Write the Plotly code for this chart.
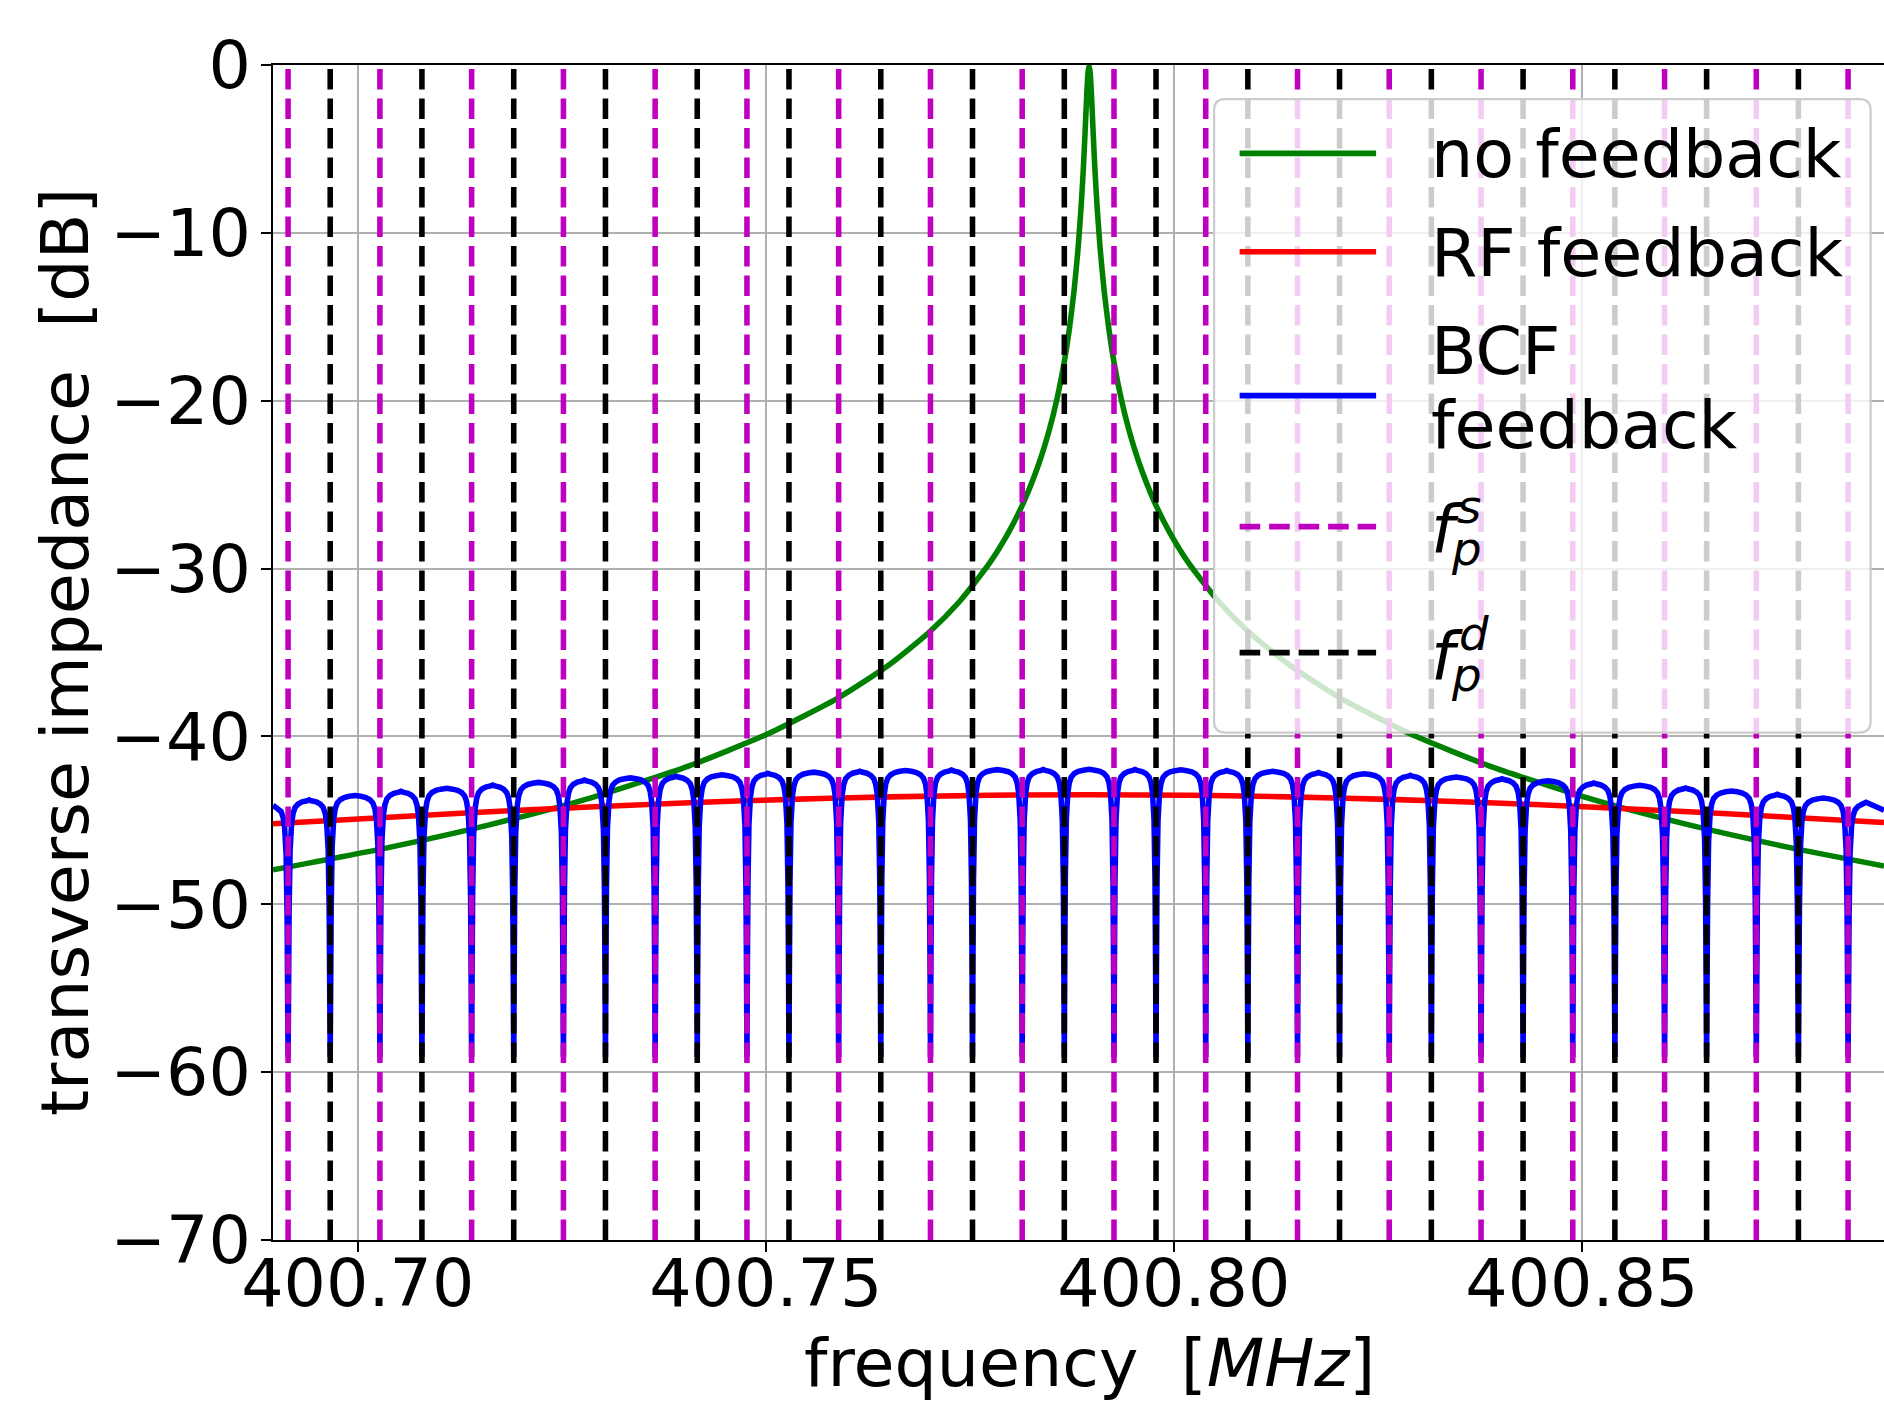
import plotly.graph_objects as go

# ---------------- data ----------------
# no feedback (green)
freq_nofb = [400.68961, 400.70386, 400.71611, 400.72836, 400.74061, 400.75041, 400.75899,
             400.76512, 400.77002, 400.77369, 400.77737, 400.77982, 400.78166, 400.78349,
             400.78472, 400.78570, 400.78656, 400.78717, 400.78778, 400.78827, 400.78864,
             400.78889, 400.78913, 400.78931, 400.78947, 400.78962, 400.78977, 400.78993,
             400.79011, 400.79035, 400.79060, 400.79097, 400.79146, 400.79207, 400.79268,
             400.79354, 400.79452, 400.79575, 400.79758, 400.79942, 400.80187, 400.80555,
             400.80922, 400.81412, 400.82025, 400.82883, 400.83863, 400.85088, 400.86313,
             400.87538, 400.88703]
db_nofb = [-47.95, -46.61, -45.27, -43.69, -41.75, -39.81, -37.67,
           -35.73, -33.79, -31.99, -29.71, -27.78, -25.98, -23.71,
           -21.78, -19.86, -17.74, -15.84, -13.43, -10.91, -8.44,
           -6.40, -3.97, -2.00, -0.55, 0.0, -0.55, -2.00,
           -3.97, -6.40, -8.44, -10.91, -13.43, -15.84, -17.74,
           -19.86, -21.78, -23.71, -25.98, -27.78, -29.71, -31.99,
           -33.79, -35.73, -37.67, -39.81, -41.75, -43.69, -45.27,
           -46.61, -47.72]

# RF feedback (red)
freq_rf = [400.68961, 400.70386, 400.71611, 400.72836, 400.74061, 400.75286, 400.76512,
           400.77737, 400.78962, 400.80187, 400.81412, 400.82638, 400.83863, 400.85088,
           400.86313, 400.87538, 400.88703]
db_rf = [-45.20, -44.81, -44.49, -44.20, -43.95, -43.75, -43.60,
         -43.50, -43.47, -43.50, -43.60, -43.75, -43.95, -44.20,
         -44.49, -44.81, -45.13]

# f_p^s (magenta) and f_p^d (black) lines [MHz]
fs_lines = [400.69146, 400.70271, 400.71395, 400.72520, 400.73644, 400.74769, 400.75893,
            400.77018, 400.78142, 400.79267, 400.80391, 400.81516, 400.82640, 400.83765,
            400.84889, 400.86014, 400.87138, 400.88263]
fd_lines = [400.69662, 400.70786, 400.71911, 400.73035, 400.74160, 400.75284, 400.76409,
            400.77533, 400.78658, 400.79782, 400.80907, 400.82031, 400.83156, 400.84280,
            400.85405, 400.86529, 400.87654]

# BCF feedback (blue): level between successive notches (left edge part, 34 gaps, right edge part)
bcf_plateau_db = [-44.02,
                  -43.78, -43.52, -43.27, -43.09, -42.90, -42.74, -42.60, -42.47, -42.37,
                  -42.29, -42.20, -42.13, -42.07, -42.03, -42.00, -41.98, -41.97, -41.96,
                  -41.97, -41.99, -42.03, -42.08, -42.15, -42.22, -42.32, -42.42, -42.52,
                  -42.64, -42.77, -42.91, -43.07, -43.25, -43.45, -43.67,
                  -43.92]
bcf_edge_db = [-44.10, -44.40]        # value at left / right border of the plot
bcf_notch_db = -59.1                  # bottom of each notch
notch_offset_hz = [49, 123, 245, 429, 613, 858, 1225, 1715, 2330]            # distance from notch centre
notch_drop_db = [-12.0, -6.6, -3.0, -1.4, -0.8, -0.45, -0.25, -0.12, -0.05]  # level below the plateau

x_range = [400.68961, 400.88703]
y_range = [-70, 0]
x_tickvals = [400.70, 400.75, 400.80, 400.85]
x_ticktext = ["400.70", "400.75", "400.80", "400.85"]
y_tickvals = [-70, -60, -50, -40, -30, -20, -10, 0]
y_ticktext = ["\u221270", "\u221260", "\u221250", "\u221240", "\u221230", "\u221220", "\u221210", "0"]

legend_labels = ["no feedback", "RF feedback", "BCF", "feedback"]

# ---------------- build BCF curve from the notch data ----------------
dips = sorted(fs_lines + fd_lines)
bx = [x_range[0]]
by = [bcf_edge_db[0]]
for i, fc in enumerate(dips):
    left = bcf_plateau_db[i]
    right = bcf_plateau_db[i + 1]
    prev = dips[i - 1] if i > 0 else x_range[0]
    nxt = dips[i + 1] if i + 1 < len(dips) else x_range[1]
    for off, drop in zip(reversed(notch_offset_hz), reversed(notch_drop_db)):
        xv = fc - off * 1e-6
        if xv > (prev + fc) / 2 + 1e-7:
            bx.append(xv)
            by.append(left + drop)
    bx.append(fc)
    by.append(bcf_notch_db)
    for off, drop in zip(notch_offset_hz, notch_drop_db):
        xv = fc + off * 1e-6
        if xv < (fc + nxt) / 2 - 1e-7:
            bx.append(xv)
            by.append(right + drop)
    bx.append((fc + nxt) / 2)
    by.append(right)
bx.append(x_range[1])
by.append(bcf_edge_db[1])

# ---------------- geometry / style ----------------
FIG_W, FIG_H = 1884, 1403
L, T, R, B = 272.7, 65.0, 1884.0, 1240.0
PW, PH = R - L, B - T
LW = 5.56
DASH = "20.6px,8.9px"
FONT = "DejaVu Sans"
FS = 66.67
GREEN, RED, BLUE, MAG, BLK = "#008000", "#ff0000", "#0000ff", "#bf00bf", "#000000"


def px(x):
    return (x - L) / PW


def py(y):
    return (B - y) / PH


fig = go.Figure()
fig.add_trace(go.Scatter(x=freq_nofb, y=db_nofb, mode="lines", name="no feedback",
                         line=dict(color=GREEN, width=LW, shape="spline", smoothing=0.6)))
fig.add_trace(go.Scatter(x=freq_rf, y=db_rf, mode="lines", name="RF feedback",
                         line=dict(color=RED, width=LW, shape="spline")))
fig.add_trace(go.Scatter(x=bx, y=by, mode="lines", name="BCF feedback",
                         line=dict(color=BLUE, width=LW, simplify=False)))
for f in fs_lines:
    fig.add_trace(go.Scatter(x=[f, f], y=[y_range[0], y_range[1]], mode="lines",
                             line=dict(color=MAG, width=LW, dash=DASH), hoverinfo="skip"))
for f in fd_lines:
    fig.add_trace(go.Scatter(x=[f, f], y=[y_range[0], y_range[1]], mode="lines",
                             line=dict(color=BLK, width=LW, dash=DASH), hoverinfo="skip"))

axis_common = dict(showgrid=True, gridcolor="#b0b0b0", gridwidth=2.22, zeroline=False,
                   showline=True, linecolor="black", linewidth=2.22, ticks="outside",
                   ticklen=9.72, tickwidth=2.22, tickcolor="black",
                   tickfont=dict(family=FONT, size=FS, color="black"))
fig.update_xaxes(range=x_range, tickmode="array", tickvals=x_tickvals, ticktext=x_ticktext,
                 mirror=True, ticklabelstandoff=-26, **axis_common)
fig.update_yaxes(range=y_range, tickmode="array", tickvals=y_tickvals, ticktext=y_ticktext,
                 mirror=False, ticklabelstandoff=-3, **axis_common)

# ---------------- legend (drawn manually, matplotlib style) ----------------
x0, x1, y0, y1, rr = 1214.0, 1870.6, 99.1, 732.6, 11.0


def P(x, y):
    return f"{px(x):.6f},{py(y):.6f}"


box = (f"M{P(x0 + rr, y0)} L{P(x1 - rr, y0)} Q{P(x1, y0)} {P(x1, y0 + rr)} "
       f"L{P(x1, y1 - rr)} Q{P(x1, y1)} {P(x1 - rr, y1)} L{P(x0 + rr, y1)} "
       f"Q{P(x0, y1)} {P(x0, y1 - rr)} L{P(x0, y0 + rr)} Q{P(x0, y0)} {P(x0 + rr, y0)} Z")
shapes = [dict(type="path", xref="paper", yref="paper", path=box,
               fillcolor="rgba(255,255,255,0.8)", line=dict(color="#cccccc", width=2.2),
               layer="above")]
samples = [(153.4, GREEN, "solid"), (251.7, RED, "solid"), (395.6, BLUE, "solid"),
           (526.6, MAG, DASH), (652.6, BLK, DASH)]
for yc, col, dsh in samples:
    shapes.append(dict(type="line", xref="paper", yref="paper", x0=px(1239.5), x1=px(1376),
                       y0=py(yc), y1=py(yc), line=dict(color=col, width=LW, dash=dsh),
                       layer="above"))

annotations = []


def text(x, y, s, size=FS, anchor="left"):
    annotations.append(dict(x=px(x), y=py(y), xref="paper", yref="paper", text=s,
                            showarrow=False, xanchor=anchor, yanchor="middle",
                            font=dict(family=FONT, size=size, color="black")))


text(1429, 154, legend_labels[0])
text(1429, 252.6, legend_labels[1])
text(1429, 351, legend_labels[2])
text(1429, 425.5, legend_labels[3])
SFS = 46.67
text(1429, 529, "<i>f</i>")
text(1455, 507, "<i>s</i>", SFS)
text(1449, 549, "<i>p</i>", SFS)
text(1429, 656, "<i>f</i>")
text(1457, 634, "<i>d</i>", SFS)
text(1449, 675, "<i>p</i>", SFS)

# axis titles
annotations.append(dict(x=px(1089.5), y=py(1363), xref="paper", yref="paper",
                        text="frequency\u00a0 [<i>MHz</i>]", showarrow=False,
                        xanchor="center", yanchor="middle",
                        font=dict(family=FONT, size=FS, color="black")))
annotations.append(dict(x=px(64.2), y=py(652.5), xref="paper", yref="paper",
                        text="transverse impedance\u00a0 [dB]", showarrow=False, textangle=-90,
                        xanchor="center", yanchor="middle",
                        font=dict(family=FONT, size=FS, color="black")))

fig.update_layout(width=FIG_W, height=FIG_H, autosize=False,
                  margin=dict(l=L, r=FIG_W - R, t=T, b=FIG_H - B, pad=0),
                  plot_bgcolor="white", paper_bgcolor="white", showlegend=False,
                  font=dict(family=FONT, size=FS, color="black"),
                  shapes=shapes, annotations=annotations)

fig.write_html("out.html", config={"displayModeBar": False},
               post_script="document.body.style.margin='0';document.body.style.overflow='hidden';"
                           "document.documentElement.style.overflow='hidden';")
